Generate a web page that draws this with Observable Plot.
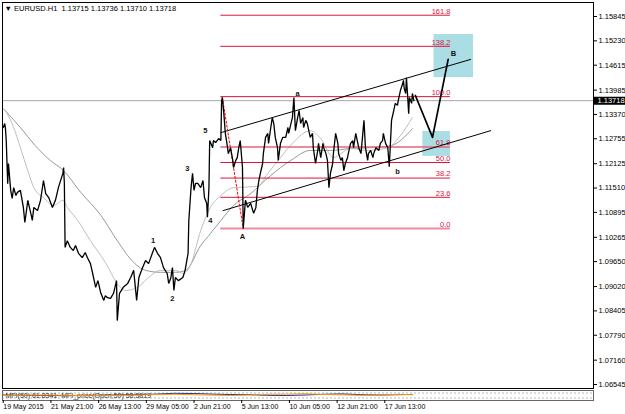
<!DOCTYPE html>
<html><head><meta charset="utf-8">
<script src="https://cdn.jsdelivr.net/npm/d3@7"></script>
<script src="https://cdn.jsdelivr.net/npm/@observablehq/plot@0.6"></script>
<style>
html,body{margin:0;padding:0;background:#fff;}
#chart svg{display:block;}
</style></head><body><div id="chart"></div>
<script>
// ---- data (x = H1 bar index, y = price) ----
const symbol = "EURUSD.H1";
const quote = [1.13715, 1.13736, 1.13710, 1.13718]; // O H L C
const currentPrice = 1.13718;
const priceTicks = [1.15845,1.15230,1.14615,1.13985,1.13370,1.12755,1.12125,1.11510,1.10895,1.10265,1.09650,1.09020,1.08405,1.07790,1.07160,1.06545];
const timeTickBars = [0,64,128,192,256,320,384,448,512];
const timeTickLabels = ["19 May 2015","21 May 21:00","26 May 13:00","29 May 05:00","2 Jun 21:00","5 Jun 13:00","10 Jun 05:00","12 Jun 21:00","17 Jun 13:00"];

const eurusdClose = [
[0,1.1304],[2,1.1314],[3,1.1301],[4,1.1271],[6,1.1162],[7,1.1213],[10,1.1145],[12,1.1125],[14,1.1152],[17,1.1132],[19,1.1140],[23,1.1145],[27,1.1102],[29,1.1064],[33,1.1120],[37,1.1087],[39,1.1069],[41,1.1102],[46,1.1094],[50,1.1120],[54,1.1170],[57,1.1137],[61,1.1127],[66,1.1102],[70,1.1120],[74,1.1152],[80,1.1188],[81,1.1203],[82,1.1163],[83,1.1001],[86,1.1018],[90,1.1001],[94,1.0993],[97,1.1006],[101,1.0986],[106,1.0975],[110,1.0988],[113,1.0975],[117,1.0960],[120,1.0935],[124,1.0900],[127,1.0917],[131,1.0885],[135,1.0867],[137,1.0879],[140,1.0874],[144,1.0872],[148,1.0885],[152,1.0917],[153,1.0816],[156,1.0885],[161,1.0900],[167,1.0910],[171,1.0925],[175,1.0943],[179,1.0867],[182,1.0925],[187,1.0950],[191,1.0968],[195,1.0960],[200,1.0986],[203,1.1001],[207,1.0986],[211,1.0975],[215,1.0950],[220,1.0935],[222,1.0910],[225,1.0925],[227,1.0950],[229,1.0892],[231,1.0925],[235,1.0917],[241,1.0925],[244,1.0943],[248,1.0986],[249,1.1069],[252,1.1152],[254,1.1188],[256,1.1145],[258,1.1163],[261,1.1163],[265,1.1152],[268,1.1170],[270,1.1127],[273,1.1112],[274,1.1077],[276,1.1152],[277,1.1271],[281,1.1253],[282,1.1271],[285,1.1266],[289,1.1276],[292,1.1271],[293,1.1372],[294,1.1380],[296,1.1339],[298,1.1289],[301,1.1253],[302,1.1238],[305,1.1253],[308,1.1221],[309,1.1203],[312,1.1221],[314,1.1228],[316,1.1253],[318,1.1271],[321,1.1203],[322,1.1049],[325,1.1120],[328,1.1102],[332,1.1112],[336,1.1087],[339,1.1102],[341,1.1145],[343,1.1170],[345,1.1188],[348,1.1213],[349,1.1238],[352,1.1279],[355,1.1289],[356,1.1264],[359,1.1304],[361,1.1329],[363,1.1314],[365,1.1279],[368,1.1253],[369,1.1221],[372,1.1264],[375,1.1279],[379,1.1279],[382,1.1304],[383,1.1289],[386,1.1314],[388,1.1329],[390,1.1380],[392,1.1296],[395,1.1329],[397,1.1347],[399,1.1314],[402,1.1329],[403,1.1304],[406,1.1322],[408,1.1314],[410,1.1296],[412,1.1279],[415,1.1289],[416,1.1253],[419,1.1213],[422,1.1246],[423,1.1264],[426,1.1228],[429,1.1264],[430,1.1253],[433,1.1238],[435,1.1221],[437,1.1152],[439,1.1188],[442,1.1213],[443,1.1238],[446,1.1289],[449,1.1264],[450,1.1238],[453,1.1221],[455,1.1228],[457,1.1195],[459,1.1213],[462,1.1228],[463,1.1238],[466,1.1264],[469,1.1271],[470,1.1253],[473,1.1289],[475,1.1271],[477,1.1253],[480,1.1238],[482,1.1279],[484,1.1322],[486,1.1253],[489,1.1221],[490,1.1238],[493,1.1246],[496,1.1228],[497,1.1238],[500,1.1253],[504,1.1246],[506,1.1264],[509,1.1271],[510,1.1289],[513,1.1264],[516,1.1253],[518,1.1205],[521,1.1322],[524,1.1347],[526,1.1365],[529,1.1360],[530,1.1372],[533,1.1398],[536,1.1415],[537,1.1423],[538,1.1403],[540,1.1390],[541,1.1430],[543,1.1372],[544,1.1339],[545,1.1380],[548,1.1365],[549,1.1390],[551,1.1372]
];

const maSlow = [[0,1.1352],[23,1.1304],[43,1.1258],[63,1.1221],[81,1.1195],[104,1.1140],[131,1.1082],[153,1.1018],[175,1.0963],[191,1.0943],[211,1.0938],[231,1.0938],[245,1.0943],[265,1.1006],[278,1.1036],[292,1.1069],[309,1.1107],[332,1.1137],[359,1.1183],[386,1.1221],[412,1.1246],[439,1.1246],[466,1.1251],[493,1.1253],[520,1.1258],[549,1.1301]];
const maFast = [[3,1.1347],[14,1.1304],[23,1.1253],[33,1.1195],[41,1.1152],[54,1.1127],[68,1.1107],[80,1.1120],[86,1.1102],[100,1.1069],[117,1.1018],[137,1.0963],[153,1.0910],[164,1.0892],[180,1.0900],[198,1.0930],[211,1.0943],[231,1.0943],[242,1.0935],[251,1.0955],[265,1.1044],[278,1.1102],[292,1.1132],[309,1.1152],[341,1.1155],[355,1.1188],[372,1.1228],[389,1.1266],[412,1.1296],[426,1.1276],[443,1.1228],[466,1.1251],[489,1.1246],[516,1.1253],[533,1.1284],[549,1.1329]];

// Fibonacci retracement tool
const fibLowPrice = 1.1049, fibHighPrice = 1.1382;
const fibStartBar = 292, fibEndBar = 600;
const fibLevels = [0, 23.6, 38.2, 50, 61.8, 100, 138.2, 161.8];
const fibAnchorLine = [[294,1.1380],[322,1.1049]];

// channel, projection, zones
const channelUpper = [[292,1.1291],[627,1.1476]];
const channelLower = [[295,1.1094],[654,1.1296]];
const projection = [[553,1.1385],[576,1.1279],[597,1.1476]];
const zones = [{b1:578,b2:631,p1:1.1430,p2:1.1539},{b1:563,b2:600,p1:1.1231,p2:1.1294}];
const waveLabels = [
 {t:"1",b:201,p:1.1018},{t:"2",b:227,p:1.0872},{t:"3",b:247,p:1.1200},{t:"4",b:278,p:1.1069},{t:"5",b:271,p:1.1296},
 {t:"A",b:321,p:1.1029},{t:"a",b:395,p:1.1390},{t:"b",b:529,p:1.1193},{t:"B",b:604,p:1.1491}
];

// MFI sub-window
const mfiLabel = "MFI(50) 61.8341  MFI_price(Open,50) 58.5819";
const mfiBars = [0,30,60,90,120,150,180,205,230,255,280,305,330,355,380,405,430,455,480,505,530,549];
const mfiValues = [55,52,50,48,52,55,58,64,72,70,64,60,58,52,50,55,62,66,58,55,58,60];
const mfiPriceValues = [50,54,55,52,48,50,55,60,62,58,54,50,55,62,64,68,60,56,52,54,62,58];

// ---- rendering ----
const FONT = "'Liberation Sans', Arial, 'DejaVu Sans', sans-serif";
const xDom = [-1, 792];
const fibRows = fibLevels.map(l => ({level: l, price: fibLowPrice + (fibHighPrice - fibLowPrice) * l / 100}));
const toPts = arr => arr.map(([b, p]) => ({b, p}));
const labelMap = new Map(timeTickBars.map((b, i) => [b, timeTickLabels[i]]));

const main = Plot.plot({
  width: 625, height: 389,
  marginLeft: 2, marginRight: 32, marginTop: 2, marginBottom: 1,
  style: {fontFamily: FONT, fontSize: "7.5px", background: "#fff", color: "#000", overflow: "visible"},
  x: {domain: xDom, axis: null},
  y: {domain: [1.06444, 1.16199], axis: null},
  marks: [
    Plot.rect(zones, {x1: "b1", x2: "b2", y1: "p1", y2: "p2", fill: "#abdde5"}),
    Plot.ruleY([currentPrice], {stroke: "#a8a8a8", strokeWidth: 1}),
    Plot.line(toPts(maSlow), {x: "b", y: "p", stroke: "#8c8c8c", strokeWidth: 0.9, curve: "monotone-x"}),
    Plot.line(toPts(maFast), {x: "b", y: "p", stroke: "#b8b8b8", strokeWidth: 0.9, curve: "monotone-x"}),
    Plot.ruleY(fibRows.filter(d => d.level !== 0 && d.level !== 61.8), {y: "price", x1: fibStartBar, x2: fibEndBar, stroke: "#dc143c", strokeWidth: 1}),
    Plot.ruleY(fibRows.filter(d => d.level === 0 || d.level === 61.8), {y: "price", x1: fibStartBar, x2: fibEndBar, stroke: "#e8637c", strokeWidth: 2, strokeOpacity: 0.75}),
    Plot.text(fibRows, {x: fibEndBar, y: "price", text: d => d.level.toFixed(1), textAnchor: "end", dy: -4, fill: "#dc143c", fontSize: 7.5}),
    Plot.line(toPts(channelUpper), {x: "b", y: "p", stroke: "#000", strokeWidth: 1}),
    Plot.line(toPts(channelLower), {x: "b", y: "p", stroke: "#000", strokeWidth: 1}),
    Plot.line(toPts(fibAnchorLine), {x: "b", y: "p", stroke: "#ff0000", strokeWidth: 1, strokeDasharray: "2,2"}),
    Plot.line(toPts(eurusdClose), {x: "b", y: "p", stroke: "#000", strokeWidth: 1.3, strokeLinejoin: "miter"}),
    Plot.line(toPts(projection), {x: "b", y: "p", stroke: "#000", strokeWidth: 1.7}),
    Plot.text(waveLabels, {x: "b", y: "p", text: "t", fontWeight: "bold", fontSize: 7.5, fill: "#111"}),
    Plot.frame({stroke: "#000", strokeWidth: 1}),
    Plot.axisY(priceTicks, {anchor: "right", label: null, tickSize: 3, tickPadding: 2, tickFormat: d => d.toFixed(5), fontSize: 7.5}),
    Plot.ruleY([currentPrice], {x1: xDom[1], x2: xDom[1] + 44, stroke: "#000", strokeWidth: 8}),
    Plot.text([currentPrice], {x: xDom[1], y: d => d, text: d => d.toFixed(5), textAnchor: "start", dx: 4, fill: "#fff", fontSize: 7.5}),
    Plot.text([`\u25BC ${symbol}  ${quote.map(q => q.toFixed(5)).join(" ")}`], {frameAnchor: "top-left", dx: 2, dy: 3, textAnchor: "start", lineAnchor: "top", fontSize: 7.5})
  ]
});

const mfiPts = (vals) => mfiBars.map((b, i) => ({b, v: vals[i]}));
const ind = Plot.plot({
  width: 625, height: 25,
  marginLeft: 2, marginRight: 32, marginTop: 1, marginBottom: 14,
  style: {fontFamily: FONT, fontSize: "7px", background: "#fff", color: "#000", overflow: "visible"},
  x: {domain: xDom, axis: null},
  y: {domain: [0, 100], axis: null},
  marks: [
    Plot.ruleY([25, 75], {stroke: "#b8b8b8", strokeDasharray: "2,2"}),
    Plot.text([mfiLabel], {frameAnchor: "left", dx: 3, textAnchor: "start", fontSize: 7, fill: "#333"}),
    Plot.line(mfiPts(mfiValues), {x: "b", y: "v", stroke: "#1c2fa0", strokeWidth: 1}),
    Plot.line(mfiPts(mfiPriceValues), {x: "b", y: "v", stroke: "#ff9a00", strokeWidth: 1}),
    Plot.frame({stroke: "#666"}),
    Plot.axisX(timeTickBars, {anchor: "bottom", label: null, tickSize: 3, tickPadding: 1, tickFormat: d => labelMap.get(d), textAnchor: "start", fontSize: 7})
  ]
});

document.getElementById("chart").append(main, ind);
</script></body></html>
